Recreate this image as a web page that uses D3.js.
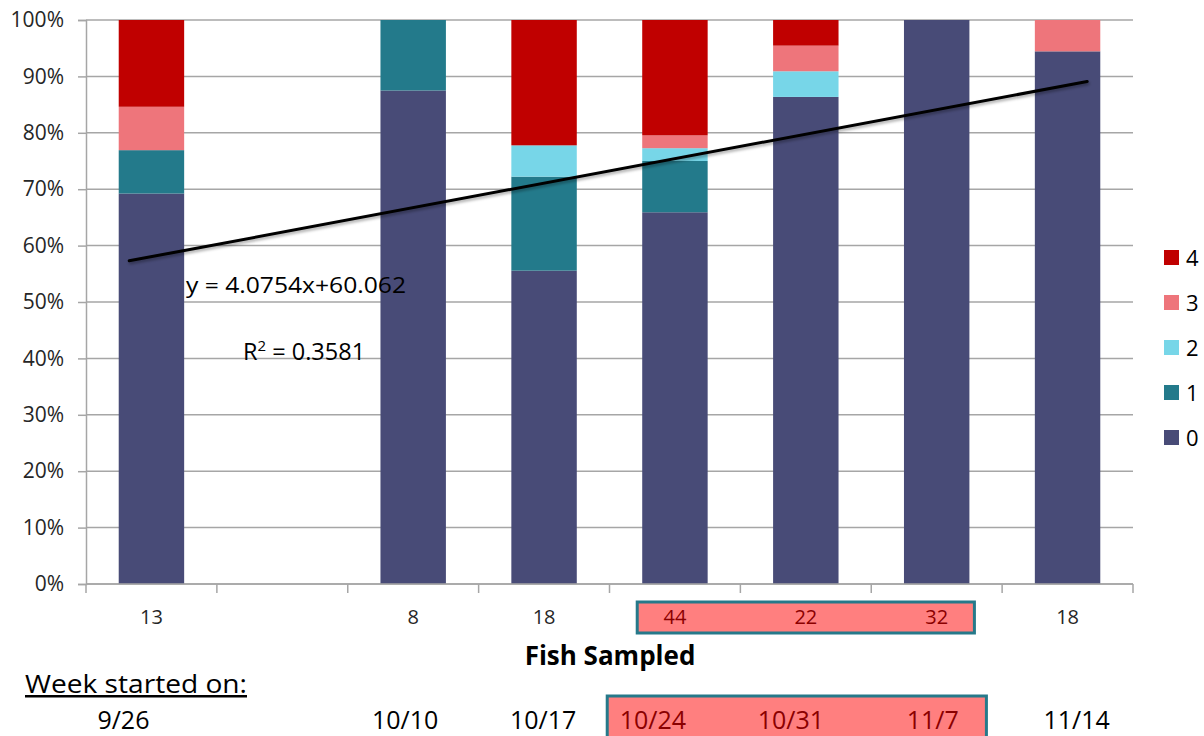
<!DOCTYPE html>
<html>
<head>
<meta charset="utf-8">
<script src="https://cdn.jsdelivr.net/npm/d3@7"></script>
<style>
  html, body { margin: 0; padding: 0; background: #fff; }
  svg { display: block; font-family: "Open Sans", "Noto Sans", sans-serif; }
</style>
</head>
<body>
<svg id="chart" width="1204" height="736"></svg>
<script>
// Weekly samples: fish counts per score (0-4), one entry per week.
const weeks = ["9/26", "10/3", "10/10", "10/17", "10/24", "10/31", "11/7", "11/14"];
const fishSampled = [13, null, 8, 18, 44, 22, 32, 18];
const score0 = [9, 0, 7, 10, 29, 19, 32, 17];
const score1 = [1, 0, 1, 3, 4, 0, 0, 0];
const score2 = [0, 0, 0, 1, 1, 1, 0, 0];
const score3 = [1, 0, 0, 0, 1, 1, 0, 1];
const score4 = [2, 0, 0, 4, 9, 1, 0, 0];
const scoreKeys = ["0", "1", "2", "3", "4"];
const scoreColors = ["#484b77", "#237a8b", "#77d6e8", "#ee757b", "#c00000"];
const yTicks = [0, 10, 20, 30, 40, 50, 60, 70, 80, 90, 100];
const highlighted = ["10/24", "10/31", "11/7"];
// Linear trend on the score-0 share, drawn between two category positions
const trendX = [-0.17, 7.15];
const trendY = [57.3, 89.1];
const trendEquation = "y = 4.0754x+60.062";
const trendR2 = "0.3581";

const svg = d3.select("#chart");
const margin = { left: 86, right: 71, top: 20, bottom: 152 };
const W = 1204, H = 736;
const plotW = W - margin.left - margin.right;
const plotH = H - margin.top - margin.bottom;

const x = d3.scaleBand().domain(weeks).range([margin.left, margin.left + plotW]).paddingInner(0.5).paddingOuter(0.25);
const y = d3.scaleLinear().domain([0, 100]).range([margin.top + plotH, margin.top]);
const xi = d3.scaleLinear().domain([0, 1]).range([x(weeks[0]) + x.bandwidth() / 2, x(weeks[1]) + x.bandwidth() / 2]);

// Percent table
const table = weeks.map((w, i) => {
  const counts = [score0[i], score1[i], score2[i], score3[i], score4[i]];
  const total = d3.sum(counts);
  const row = { week: w };
  scoreKeys.forEach((k, j) => row[k] = total ? counts[j] / total * 100 : 0);
  return row;
});
const stacked = d3.stack().keys(scoreKeys)(table);

// Gridlines
svg.append("g").selectAll("line").data(yTicks).join("line")
  .attr("x1", margin.left).attr("x2", margin.left + plotW)
  .attr("y1", d => y(d)).attr("y2", d => y(d))
  .attr("stroke", "#a6a6a6").attr("stroke-width", 1.5);

// Y axis
const yAxis = svg.append("g").attr("transform", `translate(${margin.left},0)`)
  .call(d3.axisLeft(y).tickValues(yTicks).tickFormat(d => d + "%").tickSize(8).tickPadding(14));
yAxis.select(".domain").attr("stroke", "#a6a6a6").attr("stroke-width", 1.5);
yAxis.selectAll(".tick line").attr("stroke", "#a6a6a6").attr("stroke-width", 1.5);
yAxis.selectAll(".tick text").attr("font-size", 21).attr("fill", "#262626").attr("font-family", "Open Sans");

// Bars
svg.append("g").selectAll("g").data(stacked).join("g")
  .attr("fill", (d, i) => scoreColors[i])
  .selectAll("rect").data(d => d).join("rect")
  .attr("x", d => x(d.data.week))
  .attr("width", x.bandwidth())
  .attr("y", d => y(d[1]))
  .attr("height", d => y(d[0]) - y(d[1]));

// X axis with ticks at category boundaries
const xAxisY = y(0);
const bounds = d3.range(weeks.length + 1).map(i => margin.left + i * plotW / weeks.length);
svg.append("line").attr("x1", margin.left).attr("x2", margin.left + plotW)
  .attr("y1", xAxisY).attr("y2", xAxisY).attr("stroke", "#a6a6a6").attr("stroke-width", 1.5);
svg.append("g").selectAll("line").data(bounds).join("line")
  .attr("x1", d => d).attr("x2", d => d).attr("y1", xAxisY).attr("y2", xAxisY + 9)
  .attr("stroke", "#a6a6a6").attr("stroke-width", 1.5);

// Trend line
const defs = svg.append("defs");
const f = defs.append("filter").attr("id", "shadow").attr("x", "-5%").attr("y", "-50%").attr("width", "110%").attr("height", "200%");
f.append("feDropShadow").attr("dx", 1).attr("dy", 2).attr("stdDeviation", 1.5).attr("flood-color", "#000").attr("flood-opacity", 0.35);
svg.append("line")
  .attr("x1", xi(trendX[0])).attr("y1", y(trendY[0]))
  .attr("x2", xi(trendX[1])).attr("y2", y(trendY[1]))
  .attr("stroke", "#000").attr("stroke-width", 3).attr("stroke-linecap", "round")
  .attr("filter", "url(#shadow)");

svg.append("text").attr("x", 186).attr("y", 293).attr("font-size", 22).attr("fill", "#000")
  .attr("textLength", 220).attr("lengthAdjust", "spacingAndGlyphs")
  .text(trendEquation);
const r2 = svg.append("text").attr("x", 243).attr("y", 360).attr("font-size", 23.5).attr("fill", "#000");
r2.append("tspan").text("R");
r2.append("tspan").attr("font-size", 15).attr("dy", -9).text("2");
r2.append("tspan").attr("dy", 9).text(" = " + trendR2);

// Highlight boxes spanning the highlighted weeks
const hx0 = x(highlighted[0]) - 5, hx1 = x(highlighted[highlighted.length - 1]) + x.bandwidth() + 5;
svg.append("rect").attr("x", hx0).attr("y", 602).attr("width", hx1 - hx0).attr("height", 31)
  .attr("fill", "#ff7f7f").attr("stroke", "#26798a").attr("stroke-width", 3);
svg.append("rect").attr("x", hx0 - 30).attr("y", 696).attr("width", hx1 - hx0 + 42).attr("height", 44)
  .attr("fill", "#ff7f7f").attr("stroke", "#26798a").attr("stroke-width", 3);

// Fish sampled counts
svg.append("g").selectAll("text").data(weeks.map((w, i) => ({ w, n: fishSampled[i] })).filter(d => d.n != null))
  .join("text")
  .attr("x", d => x(d.w) + x.bandwidth() / 2).attr("y", 624)
  .attr("text-anchor", "middle").attr("font-size", 20)
  .attr("fill", d => highlighted.includes(d.w) ? "#8b0000" : "#262626")
  .text(d => d.n);

svg.append("text").attr("x", 610).attr("y", 665)
  .attr("text-anchor", "middle").attr("font-size", 26).attr("font-weight", "bold").attr("fill", "#000")
  .text("Fish Sampled");

// Week start row
svg.append("text").attr("x", 25).attr("y", 693).attr("font-size", 25).attr("fill", "#000")
  .attr("textLength", 222).attr("lengthAdjust", "spacingAndGlyphs")
  .attr("text-decoration", "underline").text("Week started on:");
const weekLabelShift = [-28, 0, -8, -1, -22, -15, -4, 9];
svg.append("g").selectAll("text").data(weeks.map((w, i) => ({ w, i })).filter(d => fishSampled[d.i] != null))
  .join("text")
  .attr("x", d => x(d.w) + x.bandwidth() / 2 + weekLabelShift[d.i]).attr("y", 729)
  .attr("text-anchor", "middle").attr("font-size", 25)
  .attr("fill", d => highlighted.includes(d.w) ? "#8b0000" : "#000")
  .text(d => d.w);

// Legend (top score first)
const legend = svg.append("g").selectAll("g").data(scoreKeys.slice().reverse()).join("g")
  .attr("transform", (d, i) => `translate(1164, ${250 + i * 45})`);
legend.append("rect").attr("width", 15).attr("height", 15)
  .attr("fill", d => scoreColors[scoreKeys.indexOf(d)]);
legend.append("text").attr("x", 22).attr("y", 16).attr("font-size", 22).attr("fill", "#000").text(d => d);
</script>
</body>
</html>
